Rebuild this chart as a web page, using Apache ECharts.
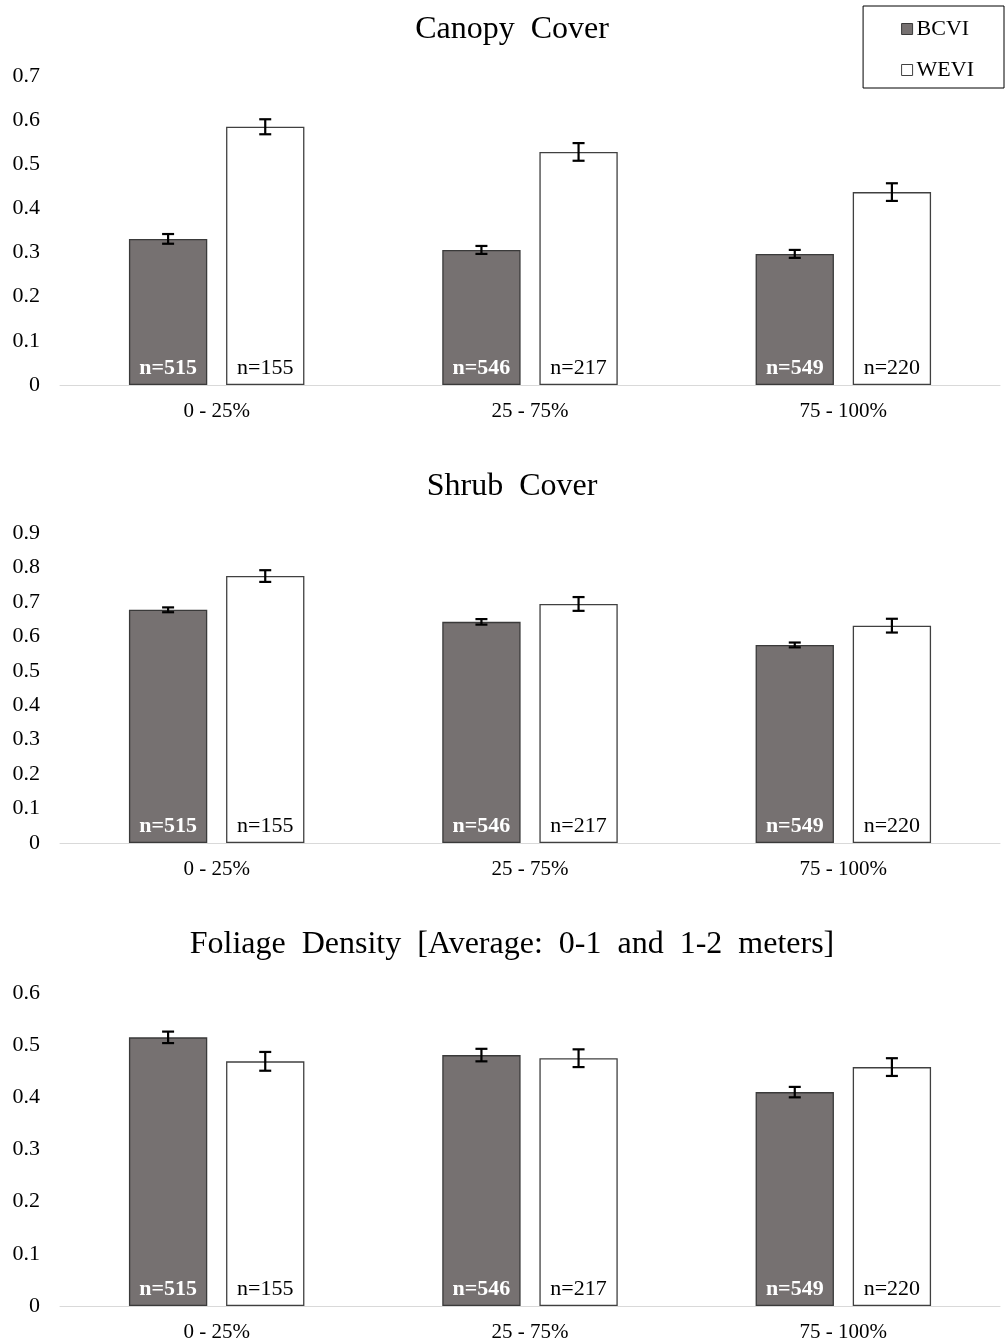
<!DOCTYPE html>
<html>
<head>
<meta charset="utf-8">
<script src="https://cdn.jsdelivr.net/npm/echarts@6/dist/echarts.min.js"></script>
<style>
	html, body { margin: 0; padding: 0; background: #fff; }
	#chart { width: 1005px; height: 1344px; }
</style>
</head>
<body>
<div id="chart"></div>
<script>
var categories = ['0 - 25%', '25 - 75%', '75 - 100%']
var seriesNames = ['BCVI', 'WEVI']
var nBCVI = ['n=515', 'n=546', 'n=549']
var nWEVI = ['n=155', 'n=217', 'n=220']

var panelTitles = ['Canopy  Cover', 'Shrub  Cover', 'Foliage  Density  [Average:  0-1  and  1-2  meters]']
var axisMax = [0.7, 0.9, 0.6]

var canopyBCVI = [0.331, 0.306, 0.297]
var canopyBCVIErr = [0.011, 0.009, 0.009]
var canopyWEVI = [0.585, 0.528, 0.437]
var canopyWEVIErr = [0.017, 0.02, 0.02]

var shrubBCVI = [0.677, 0.642, 0.575]
var shrubBCVIErr = [0.007, 0.008, 0.007]
var shrubWEVI = [0.775, 0.694, 0.631]
var shrubWEVIErr = [0.017, 0.02, 0.02]

var foliageBCVI = [0.515, 0.481, 0.41]
var foliageBCVIErr = [0.011, 0.012, 0.01]
var foliageWEVI = [0.469, 0.475, 0.458]
var foliageWEVIErr = [0.018, 0.017, 0.017]

var FONT = 'Liberation Serif'

function drawPanels(chartDom) {
	var myChart = echarts.init(chartDom)
	var gridTops = [76, 533, 993]
	var gridHeights = [309, 310, 313]
	var titleTops = [14, 471, 929]
	var panels = [
		[canopyBCVI, canopyBCVIErr, canopyWEVI, canopyWEVIErr],
		[shrubBCVI, shrubBCVIErr, shrubWEVI, shrubWEVIErr],
		[foliageBCVI, foliageBCVIErr, foliageWEVI, foliageWEVIErr],
	]

	var grids = [], xAxes = [], yAxes = [], titles = [], series = []

	for (var i = 0; i < 3; i++) {
		titles.push({
			text: panelTitles[i],
			left: 512,
			top: titleTops[i],
			textAlign: 'center',
			padding: 0,
			textStyle: { fontFamily: FONT, fontSize: 32, fontWeight: 'normal', color: '#000' },
		})
		grids.push({ left: 60, right: 5, top: gridTops[i], height: gridHeights[i], outerBoundsMode: 'none' })
		xAxes.push({
			type: 'category',
			gridIndex: i,
			data: categories,
			axisLine: { lineStyle: { color: '#d9d9d9', width: 1 } },
			axisTick: { show: false },
			axisLabel: { margin: 16, fontFamily: FONT, fontSize: 21, color: '#000' },
		})
		yAxes.push({
			type: 'value',
			gridIndex: i,
			min: 0,
			max: axisMax[i],
			interval: 0.1,
			splitLine: { show: false },
			axisLine: { show: false },
			axisTick: { show: false },
			axisLabel: {
				margin: 20,
				fontFamily: FONT,
				fontSize: 22,
				color: '#000',
				formatter: function (v) {
					return v === 0 ? '0' : v.toFixed(1)
				},
			},
		})

		var p = panels[i]
		series.push(barSeries(i, 'BCVI', p[0], nBCVI, '#767171', '#3a3a3a', '#fff', 'bold'))
		series.push(barSeries(i, 'WEVI', p[2], nWEVI, '#ffffff', '#404040', '#000', 'normal'))
		series.push(errorSeries(i, p[0], p[1], -1))
		series.push(errorSeries(i, p[2], p[3], 1))
	}

	var option = {
		animation: false,
		backgroundColor: '#fff',
		title: titles,
		legend: {
			data: seriesNames,
			orient: 'vertical',
			right: 1,
			top: 6,
			icon: 'rect',
			borderColor: '#000',
			borderWidth: 1,
			padding: [12, 30, 7, 38],
			itemGap: 19,
			itemWidth: 11,
			itemHeight: 11,
			itemStyle: { borderWidth: 1 },
			textStyle: { fontFamily: FONT, fontSize: 22, color: '#000', padding: [0, 0, 0, -1] },
		},
		grid: grids,
		xAxis: xAxes,
		yAxis: yAxes,
		series: series,
	}

	option && myChart.setOption(option)
}

function barSeries(idx, name, values, nLabels, fill, border, labelColor, labelWeight) {
	return {
		name: name,
		type: 'bar',
		xAxisIndex: idx,
		yAxisIndex: idx,
		barWidth: '25%',
		barGap: '24%',
		data: values,
		itemStyle: { color: fill, borderColor: border, borderWidth: 1.3 },
		label: {
			show: true,
			position: 'insideBottom',
			distance: 6,
			fontFamily: FONT,
			fontSize: 22,
			fontWeight: labelWeight,
			color: labelColor,
			formatter: function (p) {
				return nLabels[p.dataIndex]
			},
		},
	}
}

function errorSeries(idx, values, errs, side) {
	return {
		type: 'custom',
		xAxisIndex: idx,
		yAxisIndex: idx,
		z: 10,
		silent: true,
		data: values.map(function (v, k) {
			return [k, v - errs[k], v + errs[k]]
		}),
		renderItem: function (params, api) {
			var band = api.size([1, 0])[0]
			var bw = band * 0.25
			var off = ((bw + bw * 0.24) / 2) * side
			var lo = api.coord([api.value(0), api.value(1)])
			var hi = api.coord([api.value(0), api.value(2)])
			var x = lo[0] + off
			var cap = 6
			var st = { stroke: '#000', lineWidth: 2.2 }
			return {
				type: 'group',
				children: [
					{ type: 'line', shape: { x1: x, y1: lo[1], x2: x, y2: hi[1] }, style: st },
					{ type: 'line', shape: { x1: x - cap, y1: lo[1], x2: x + cap, y2: lo[1] }, style: st },
					{ type: 'line', shape: { x1: x - cap, y1: hi[1], x2: x + cap, y2: hi[1] }, style: st },
				],
			}
		},
	}
}

drawPanels(document.getElementById('chart'))
</script>
</body>
</html>
